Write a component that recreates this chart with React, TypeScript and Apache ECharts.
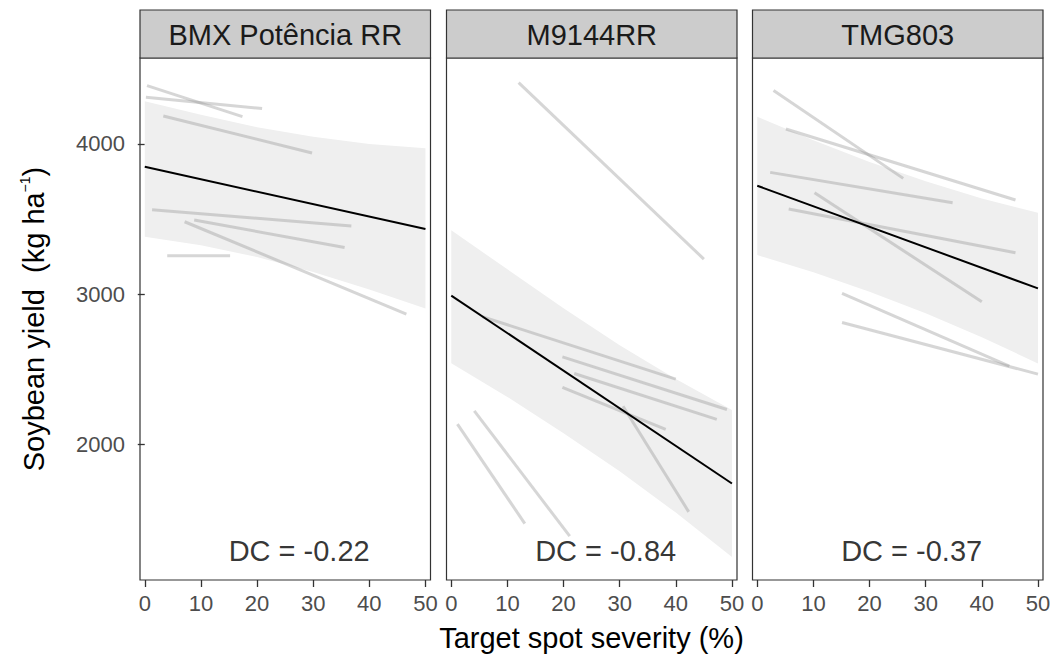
import React, { useEffect, useRef } from "react";
import * as echarts from "echarts";

const FONT = "'Liberation Sans', Arial, sans-serif";

const panelNames = ["BMX Potência RR", "M9144RR", "TMG803"];
const dcLabels = ["DC = -0.22", "DC = -0.84", "DC = -0.37"];
const dcPos = [27.5, 1290];

const xTicks = [0, 10, 20, 30, 40, 50];
const yTicks = [2000, 3000, 4000];

const ribbonX = [0, 10, 20, 30, 40, 50];
const ribbonUpper = [
  [4285, 4195, 4112, 4048, 4000, 3971],
  [3425, 3165, 2905, 2659, 2434, 2227],
  [4182, 4025, 3880, 3752, 3637, 3542],
];
const ribbonLower = [
  [3382, 3325, 3247, 3147, 3030, 2904],
  [2540, 2315, 2073, 1819, 1544, 1249],
  [3260, 3145, 3016, 2872, 2713, 2538],
];

const fitLines = [
  [[0, 3848], [50, 3433]],
  [[0, 2990], [50, 1738]],
  [[0, 3722], [50, 3038]],
];

// study-level lines: [x1, y1, x2, y2]
const studyLines1 = [
  [0.4, 4389, 17.4, 4182],
  [0.2, 4311, 20.9, 4236],
  [3.3, 4187, 29.8, 3940],
  [1.3, 3562, 36.8, 3453],
  [8.8, 3493, 35.6, 3311],
  [7.1, 3482, 46.6, 2867],
  [4.0, 3255, 15.2, 3255],
];
const studyLines2 = [
  [12.0, 4409, 45.0, 3233],
  [5.5, 2850, 40.0, 2433],
  [19.8, 2582, 49.1, 2231],
  [21.9, 2471, 47.3, 2165],
  [19.8, 2378, 38.2, 2098],
  [30.6, 2253, 42.3, 1549],
  [1.1, 2133, 13.1, 1471],
  [4.1, 2222, 21.1, 1387],
];
const studyLines3 = [
  [2.9, 4356, 26.0, 3771],
  [5.1, 4100, 46.0, 3627],
  [2.3, 3811, 34.8, 3609],
  [5.6, 3567, 46.0, 3275],
  [10.2, 3675, 40.0, 2949],
  [15.1, 3004, 44.9, 2520],
  [15.1, 2811, 50.0, 2467],
];
const studyLines = [studyLines1, studyLines2, studyLines3];

const X_MIN = -0.85;
const X_MAX = 50.9;
const Y_MIN = 1095;
const Y_MAX = 4573;

const panelLeft = [140, 446.5, 752.5];
const panelWidth = 290.5;
const panelTop = 58;
const panelHeight = 522;
const stripTop = 10;

export default function App() {
  const ref = useRef<HTMLDivElement>(null);

  useEffect(() => {
    if (!ref.current) return;
    const chart = echarts.init(ref.current, undefined, { renderer: "svg" });

    const grids = panelLeft.map((l) => ({
      left: l,
      top: panelTop,
      width: panelWidth,
      height: panelHeight,
      show: true,
      borderColor: "#333333",
      borderWidth: 1.2,
      backgroundColor: "#ffffff",
      containLabel: false,
    }));

    const xAxes = panelLeft.map((_, i) => ({
      type: "value",
      gridIndex: i,
      min: X_MIN,
      max: X_MAX,
      axisLine: { show: false },
      splitLine: { show: false },
      axisTick: {
        show: true,
        customValues: xTicks,
        length: 7,
        lineStyle: { color: "#333333", width: 1.3 },
      },
      axisLabel: {
        show: true,
        customValues: xTicks,
        formatter: (v: number) => String(v),
        fontSize: 22,
        color: "#4d4d4d",
        fontFamily: FONT,
        margin: 12,
      },
    }));

    const yAxes = panelLeft.map((_, i) => ({
      type: "value",
      gridIndex: i,
      min: Y_MIN,
      max: Y_MAX,
      axisLine: { show: false },
      splitLine: { show: false },
      axisTick: {
        show: i === 0,
        customValues: yTicks,
        length: 7,
        lineStyle: { color: "#333333", width: 1.3 },
      },
      axisLabel: {
        show: i === 0,
        customValues: yTicks,
        formatter: (v: number) => String(v),
        fontSize: 22,
        color: "#4d4d4d",
        fontFamily: FONT,
        margin: 15,
      },
    }));

    const series: any[] = [];
    for (let i = 0; i < 3; i++) {
      const upper = ribbonUpper[i];
      const lower = ribbonLower[i];
      series.push({
        type: "custom",
        xAxisIndex: i,
        yAxisIndex: i,
        data: ribbonX.map((x, j) => [x, lower[j], upper[j]]),
        encode: { x: 0, y: [1, 2] },
        renderItem: (params: any, api: any) => {
          if (params.dataIndex !== 0) return null;
          const pts: number[][] = [];
          ribbonX.forEach((x, j) => pts.push(api.coord([x, upper[j]])));
          for (let j = ribbonX.length - 1; j >= 0; j--) {
            pts.push(api.coord([ribbonX[j], lower[j]]));
          }
          return {
            type: "polygon",
            shape: { points: pts, smooth: 0 },
            style: { fill: "#efefef", stroke: "none" },
          };
        },
        silent: true,
        z: 1,
      });
      studyLines[i].forEach((s) => {
        series.push({
          type: "line",
          xAxisIndex: i,
          yAxisIndex: i,
          data: [
            [s[0], s[1]],
            [s[2], s[3]],
          ],
          symbol: "none",
          lineStyle: { color: "rgba(153,153,153,0.4)", width: 3, cap: "butt" },
          silent: true,
          z: 2,
        });
      });
      series.push({
        type: "line",
        xAxisIndex: i,
        yAxisIndex: i,
        data: fitLines[i],
        symbol: "none",
        lineStyle: { color: "#000000", width: 2 },
        silent: true,
        z: 3,
      });
      series.push({
        type: "scatter",
        xAxisIndex: i,
        yAxisIndex: i,
        data: [dcPos],
        symbolSize: 1,
        itemStyle: { color: "transparent" },
        label: {
          show: true,
          position: "inside",
          formatter: dcLabels[i],
          fontSize: 29,
          color: "#000000",
          fontFamily: FONT,
        },
        silent: true,
        z: 4,
      });
    }

    const graphics: any[] = [];
    panelLeft.forEach((l, i) => {
      graphics.push({
        type: "rect",
        shape: { x: l, y: stripTop, width: panelWidth, height: panelTop - stripTop },
        style: { fill: "#cccccc", stroke: "#333333", lineWidth: 1.2 },
        silent: true,
      });
      graphics.push({
        type: "text",
        x: l + panelWidth / 2,
        y: (stripTop + panelTop) / 2 + 1,
        style: {
          text: panelNames[i],
          fontSize: 29,
          fontFamily: FONT,
          fill: "#1a1a1a",
          align: "center",
          verticalAlign: "middle",
        },
        silent: true,
      });
    });
    graphics.push({
      type: "text",
      x: (panelLeft[0] + panelLeft[2] + panelWidth) / 2,
      y: 638,
      style: {
        text: "Target spot severity (%)",
        fontSize: 29,
        fontFamily: FONT,
        fill: "#000000",
        align: "center",
        verticalAlign: "middle",
      },
      silent: true,
    });
    graphics.push({
      type: "text",
      x: 34,
      y: panelTop + panelHeight / 2,
      rotation: Math.PI / 2,
      style: {
        text: "{a|Soybean yield  (kg ha}{s|−1}{a|)}",
        align: "center",
        verticalAlign: "middle",
        rich: {
          a: { fontSize: 29, fontFamily: FONT, fill: "#000000", lineHeight: 32 },
          s: {
            fontSize: 14,
            fontFamily: FONT,
            fill: "#000000",
            lineHeight: 18,
            verticalAlign: "top",
          },
        },
      },
      silent: true,
    });

    chart.setOption({
      animation: false,
      backgroundColor: "#ffffff",
      grid: grids,
      xAxis: xAxes,
      yAxis: yAxes,
      series,
      graphic: graphics,
    });

    return () => chart.dispose();
  }, []);

  return (
    <div
      ref={ref}
      style={{ position: "fixed", left: 0, top: 0, width: 1056, height: 657 }}
    />
  );
}
